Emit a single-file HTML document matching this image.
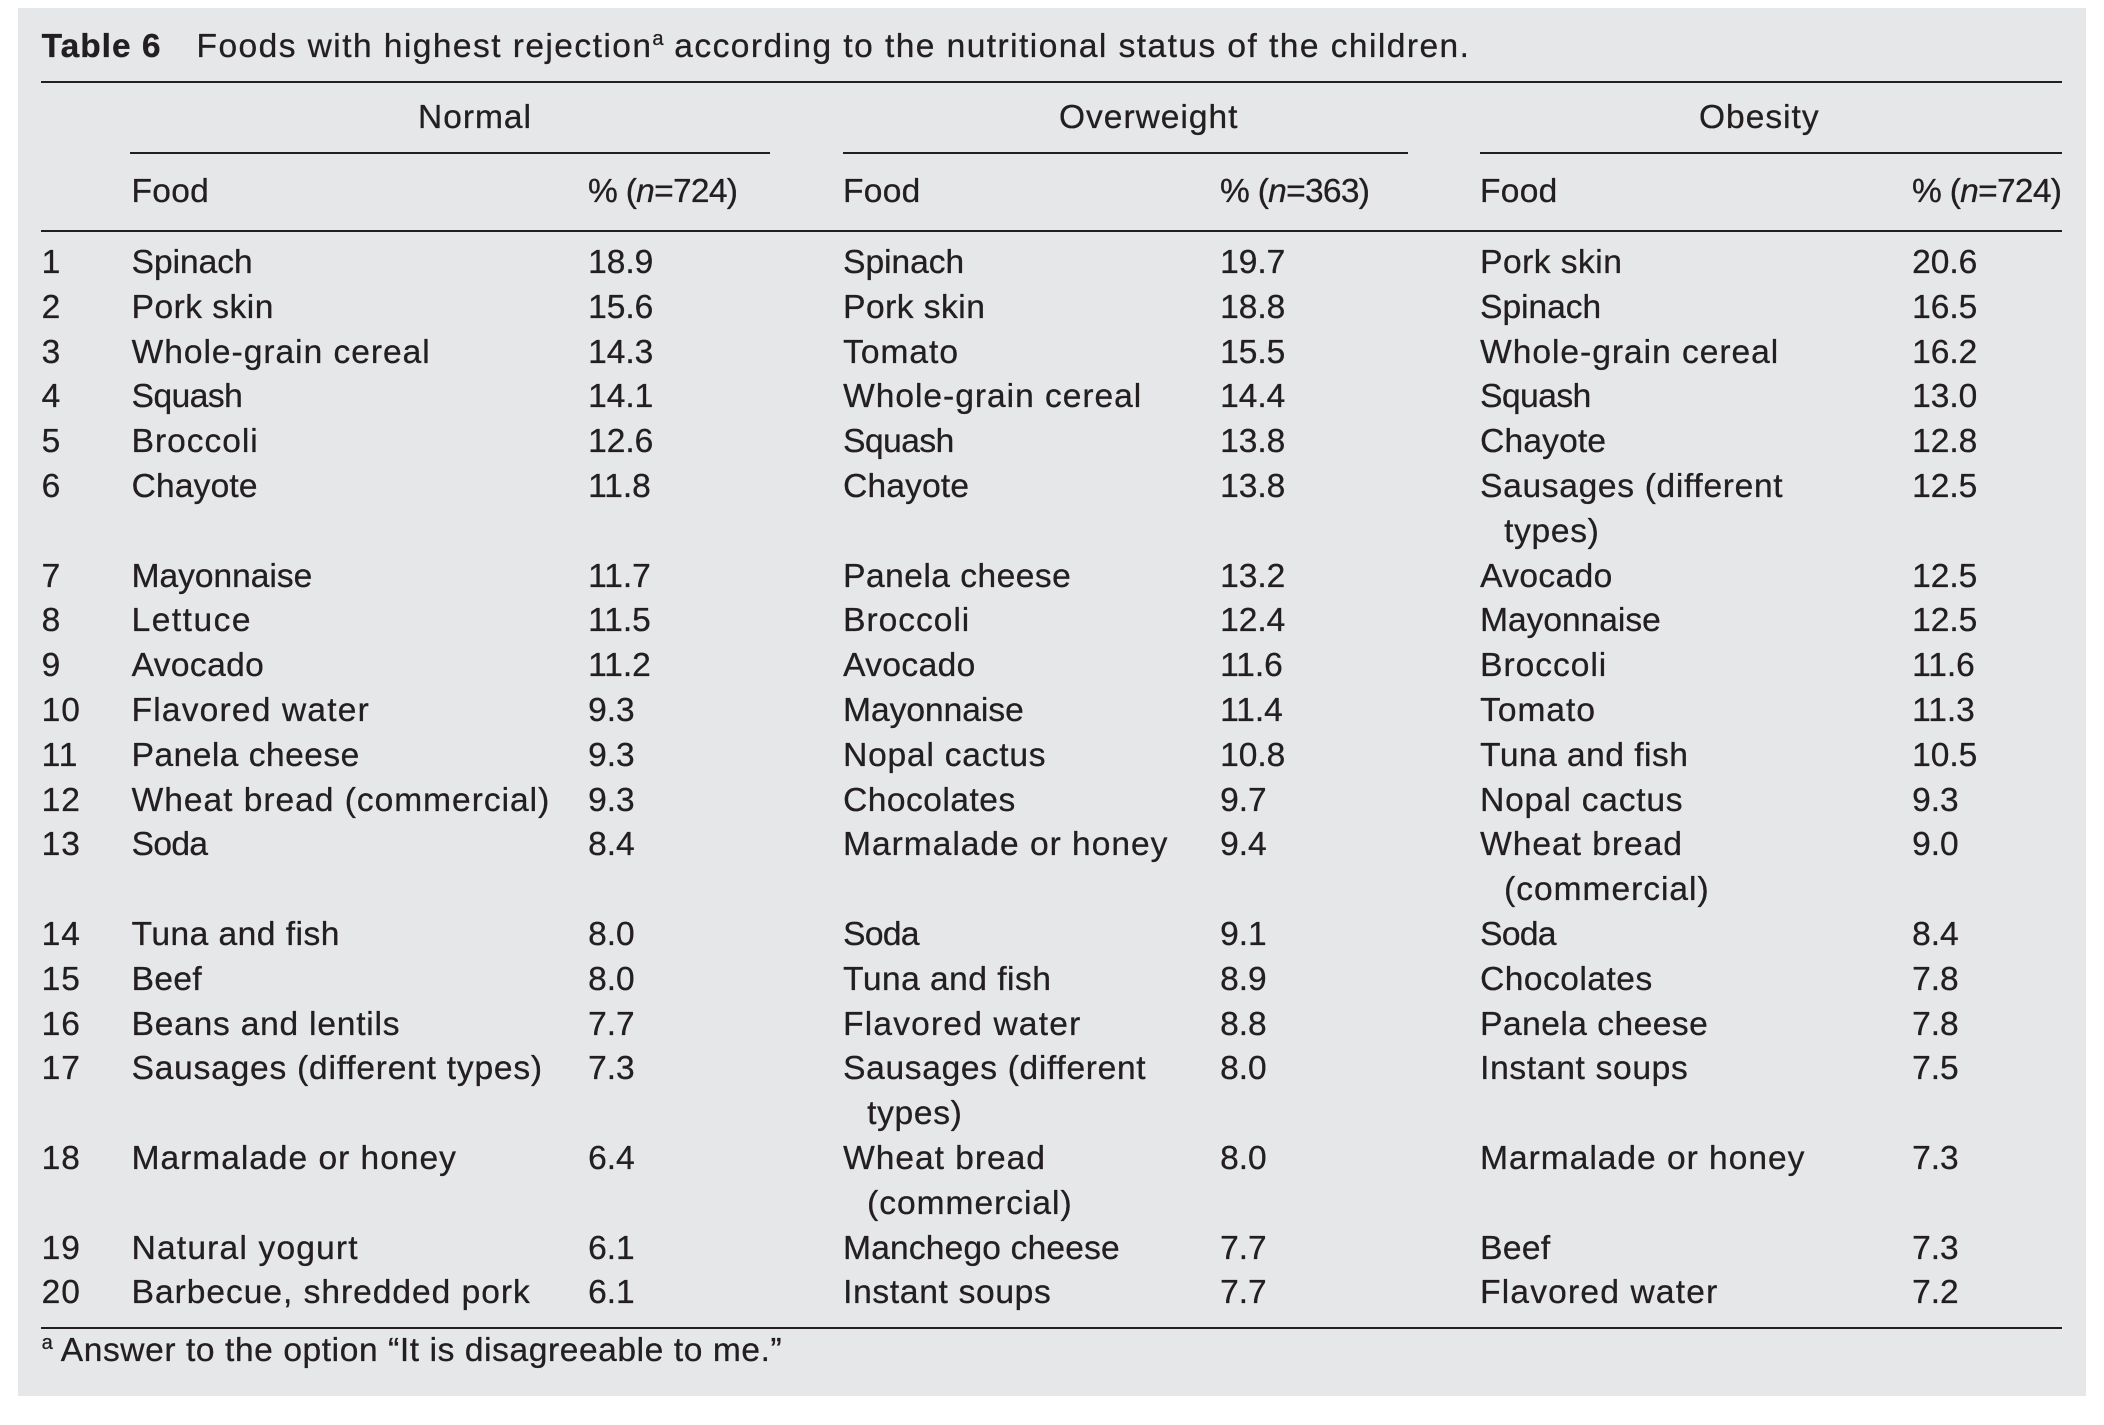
<!DOCTYPE html>
<html lang="en"><head><meta charset="utf-8"><title>Table 6</title>
<style>
html,body{margin:0;padding:0;background:#fff;width:2104px;height:1425px;overflow:hidden}
body{position:relative;font-family:"Liberation Sans",sans-serif;font-size:33.5px;letter-spacing:1px;color:#231f20;-webkit-text-stroke:.3px #231f20}
#panel{position:absolute;left:18px;top:8px;width:2068px;height:1388px;background:#e6e7e9}
.rule{position:absolute;height:2px;background:#231f20}
.t{position:absolute;white-space:nowrap;line-height:44.8px;height:44.8px}
.r{position:absolute;left:41.6px;top:241px;width:2040px}
.w{display:grid;grid-template-columns:90px 456.5px 255px 377px 260px 432px 150px;line-height:44.8px;white-space:nowrap}
.w span:nth-child(3),.w span:nth-child(5),.w span:nth-child(7){letter-spacing:0}
.h{padding-left:24px;text-indent:-24px}
.p{letter-spacing:-.7px}
.f{letter-spacing:.3px}
.s0{letter-spacing:0}.s2{letter-spacing:.2px}.s4{letter-spacing:.4px}.s5{letter-spacing:.5px}.s7{letter-spacing:.7px}.s8{letter-spacing:.8px}.s12{letter-spacing:1.2px}.s15{letter-spacing:1.5px}.n5{letter-spacing:-.5px}.n7{letter-spacing:-.6px}
sup{font-size:20px;line-height:0;vertical-align:baseline;position:relative;top:-12px;letter-spacing:0}
</style></head>
<body>
<div id="panel"></div>
<div class="t" style="left:41.6px;top:25px"><b>Table 6</b><span style="margin-left:35px;letter-spacing:1.45px">Foods with highest rejection<sup>a</sup> according to the nutritional status of the children.</span></div>
<div class="rule" style="left:41px;top:81px;width:2021px"></div>
<div class="t" style="left:418px;top:96px">Normal</div>
<div class="t" style="left:1059px;top:96px">Overweight</div>
<div class="t" style="left:1699px;top:96px">Obesity</div>
<div class="rule" style="left:130px;top:152px;width:640px"></div>
<div class="rule" style="left:843px;top:152px;width:565px"></div>
<div class="rule" style="left:1480px;top:152px;width:582px"></div>
<div class="t f" style="left:131.5px;top:170px">Food</div>
<div class="t p" style="left:588px;top:170px">% (<i>n</i>=724)</div>
<div class="t f" style="left:843px;top:170px">Food</div>
<div class="t p" style="left:1220px;top:170px">% (<i>n</i>=363)</div>
<div class="t f" style="left:1480px;top:170px">Food</div>
<div class="t p" style="left:1912px;top:170px">% (<i>n</i>=724)</div>
<div class="rule" style="left:41px;top:230px;width:2021px"></div>
<div class="r">
<div class="w"><span>1</span><span class="s0">Spinach</span><span>18.9</span><span class="s0">Spinach</span><span>19.7</span><span class="s5">Pork skin</span><span>20.6</span></div>
<div class="w"><span>2</span><span class="s5">Pork skin</span><span>15.6</span><span class="s5">Pork skin</span><span>18.8</span><span class="s0">Spinach</span><span>16.5</span></div>
<div class="w"><span>3</span><span>Whole-grain cereal</span><span>14.3</span><span>Tomato</span><span>15.5</span><span>Whole-grain cereal</span><span>16.2</span></div>
<div class="w"><span>4</span><span class="n5">Squash</span><span>14.1</span><span>Whole-grain cereal</span><span>14.4</span><span class="n5">Squash</span><span>13.0</span></div>
<div class="w"><span>5</span><span>Broccoli</span><span>12.6</span><span class="n5">Squash</span><span>13.8</span><span class="s2">Chayote</span><span>12.8</span></div>
<div class="w"><span>6</span><span class="s2">Chayote</span><span>11.8</span><span class="s2">Chayote</span><span>13.8</span><span class="h s7">Sausages (different<br>types)</span><span>12.5</span></div>
<div class="w"><span>7</span><span class="s0">Mayonnaise</span><span>11.7</span><span class="s5">Panela cheese</span><span>13.2</span><span class="s4">Avocado</span><span>12.5</span></div>
<div class="w"><span>8</span><span class="s15">Lettuce</span><span>11.5</span><span>Broccoli</span><span>12.4</span><span class="s0">Mayonnaise</span><span>12.5</span></div>
<div class="w"><span>9</span><span class="s4">Avocado</span><span>11.2</span><span class="s4">Avocado</span><span>11.6</span><span>Broccoli</span><span>11.6</span></div>
<div class="w"><span>10</span><span class="s12">Flavored water</span><span>9.3</span><span class="s0">Mayonnaise</span><span>11.4</span><span>Tomato</span><span>11.3</span></div>
<div class="w"><span>11</span><span class="s5">Panela cheese</span><span>9.3</span><span class="s8">Nopal cactus</span><span>10.8</span><span class="s5">Tuna and fish</span><span>10.5</span></div>
<div class="w"><span>12</span><span>Wheat bread (commercial)</span><span>9.3</span><span class="s5">Chocolates</span><span>9.7</span><span class="s8">Nopal cactus</span><span>9.3</span></div>
<div class="w"><span>13</span><span class="n7">Soda</span><span>8.4</span><span>Marmalade or honey</span><span>9.4</span><span class="h">Wheat bread<br>(commercial)</span><span>9.0</span></div>
<div class="w"><span>14</span><span class="s5">Tuna and fish</span><span>8.0</span><span class="n7">Soda</span><span>9.1</span><span class="n7">Soda</span><span>8.4</span></div>
<div class="w"><span>15</span><span class="s4">Beef</span><span>8.0</span><span class="s5">Tuna and fish</span><span>8.9</span><span class="s5">Chocolates</span><span>7.8</span></div>
<div class="w"><span>16</span><span class="s8">Beans and lentils</span><span>7.7</span><span class="s12">Flavored water</span><span>8.8</span><span class="s5">Panela cheese</span><span>7.8</span></div>
<div class="w"><span>17</span><span class="s8">Sausages (different types)</span><span>7.3</span><span class="h s7">Sausages (different<br>types)</span><span>8.0</span><span class="s7">Instant soups</span><span>7.5</span></div>
<div class="w"><span>18</span><span>Marmalade or honey</span><span>6.4</span><span class="h">Wheat bread<br>(commercial)</span><span>8.0</span><span>Marmalade or honey</span><span>7.3</span></div>
<div class="w"><span>19</span><span class="s12">Natural yogurt</span><span>6.1</span><span class="s2">Manchego cheese</span><span>7.7</span><span class="s4">Beef</span><span>7.3</span></div>
<div class="w"><span>20</span><span>Barbecue, shredded pork</span><span>6.1</span><span class="s7">Instant soups</span><span>7.7</span><span class="s12">Flavored water</span><span>7.2</span></div>
</div>
<div class="rule" style="left:41px;top:1327px;width:2021px"></div>
<div class="t" style="left:41.6px;top:1329px;letter-spacing:.6px"><sup>a</sup> Answer to the option “It is disagreeable to me.”</div>
</body></html>
